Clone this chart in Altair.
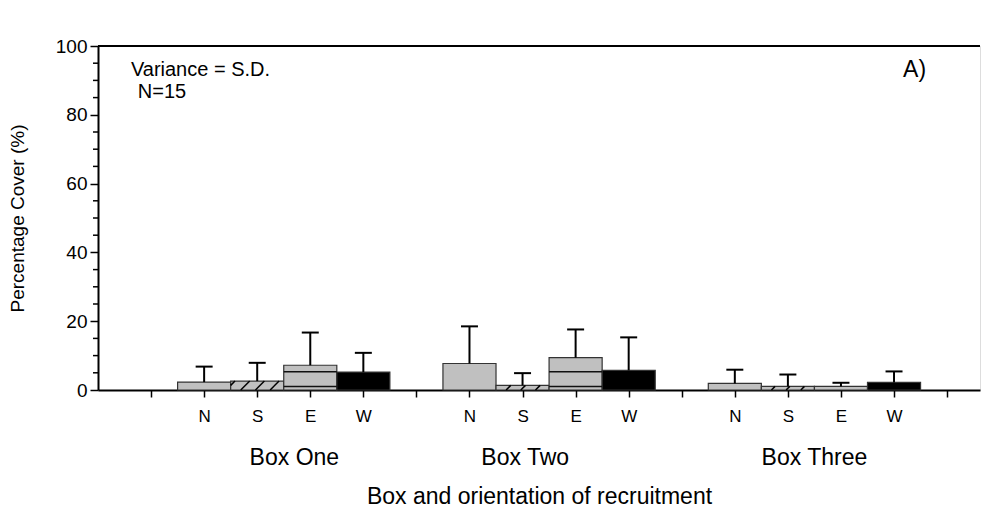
import altair as alt
import pandas as pd

# ---------------- data ----------------
boxes = ["Box One"] * 4 + ["Box Two"] * 4 + ["Box Three"] * 4
orients = ["N", "S", "E", "W"] * 3
positions = [1, 2, 3, 4, 6, 7, 8, 9, 11, 12, 13, 14]
means = [2.3, 2.6, 7.2, 5.2, 7.7, 1.35, 9.4, 5.7, 1.9, 1.05, 1.05, 2.2]
sds = [4.5, 5.3, 9.5, 5.6, 10.8, 3.55, 8.2, 9.6, 4.0, 3.45, 1.05, 3.2]

# inner divider lines drawn inside the E bars
e_line_pos = [3, 3, 8, 8]
e_line_vals = [1.05, 5.3, 1.05, 5.3]

box_label_names = ["Box One", "Box Two", "Box Three"]
box_label_pos = [2.7, 7.05, 12.5]

x_ticks = list(range(16))
y_major = [0, 20, 40, 60, 80, 100]
y_minor = [v for v in range(5, 100, 5) if v % 20 != 0]

FONT = "Liberation Sans"
W, H = 882, 344
X_DOMAIN = [-1, 15.62]

fill_map = {"N": "#c0c0c0", "S": "#c0c0c0", "E": "#c0c0c0", "W": "#000000"}

df = pd.DataFrame({
    "box": boxes, "orient": orients, "pos": positions,
    "mean": means, "sd": sds,
})
df["left"] = df["pos"] - 0.5
df["right"] = df["pos"] + 0.5
df["top"] = df["mean"] + df["sd"]
df["capl"] = df["pos"] - 0.16
df["capr"] = df["pos"] + 0.16
df["fill"] = df["orient"].map(fill_map)
df["zero"] = 0.0

# hatch segments for the S bars, derived from bar heights
px_x = W / (X_DOMAIN[1] - X_DOMAIN[0])
px_y = H / 100.0
rows = []
for _, r in df[df["orient"] == "S"].iterrows():
    left, right, h = r["left"], r["right"], r["mean"]
    dx = h * px_y / px_x
    spacing = 0.277
    for j in range(-1, 5):
        x0 = left + 0.19 + j * spacing
        x1 = x0 + dx
        if x1 <= left or x0 >= right:
            continue
        sx, sy = x0, 0.0
        ex, ey = x1, h
        if sx < left:
            sy = h * (left - x0) / dx
            sx = left
        if ex > right:
            ey = h * (right - x0) / dx
            ex = right
        rows.append({"x": sx, "y": sy, "x2": ex, "y2": ey})
hatch = pd.DataFrame(rows)

e_lines = pd.DataFrame({"pos": e_line_pos, "val": e_line_vals})
e_lines["left"] = e_lines["pos"] - 0.5
e_lines["right"] = e_lines["pos"] + 0.5

minor = pd.DataFrame({"v": y_minor})
box_lbl = pd.DataFrame({"name": box_label_names, "pos": box_label_pos})
notes = pd.DataFrame({
    "text": ["Variance = S.D.", "N=15"],
    "x": [-0.38, -0.25],
    "y": [93.0, 86.6],
})
panel = pd.DataFrame({"text": ["A)"], "x": [14.17], "y": [92.9]})

# ---------------- scales / axes ----------------
xscale = alt.Scale(domain=X_DOMAIN, nice=False, zero=False)
yscale = alt.Scale(domain=[0, 100], nice=False)

label_expr = ("datum.value % 5 == 1 ? 'N' : datum.value % 5 == 2 ? 'S' : "
              "datum.value % 5 == 3 ? 'E' : datum.value % 5 == 4 ? 'W' : ''")

x_axis = alt.Axis(
    values=x_ticks, labelExpr=label_expr, grid=False,
    tickSize=7, tickColor="black", tickWidth=1.5,
    domainColor="black", domainWidth=2,
    labelFont=FONT, labelFontSize=17, labelColor="black", labelPadding=11,
    labelOverlap=False, labelFlush=False,
    title="Box and orientation of recruitment",
    titleFont=FONT, titleFontSize=23, titleFontWeight="normal",
    titleColor="black", titlePadding=61,
)
y_axis = alt.Axis(
    values=y_major, grid=False,
    tickSize=8, tickColor="black", tickWidth=1.5,
    domainColor="black", domainWidth=2,
    labelFont=FONT, labelFontSize=19, labelColor="black", labelPadding=3,
    title="Percentage Cover (%)",
    titleFont=FONT, titleFontSize=19, titleFontWeight="normal",
    titleColor="black", titlePadding=28,
)

base = alt.Chart(df)

bars = base.mark_rect(stroke="#333333", strokeWidth=1.2).encode(
    x=alt.X("left:Q", scale=xscale, axis=x_axis),
    x2="right:Q",
    y=alt.Y("zero:Q", scale=yscale, axis=y_axis),
    y2="mean:Q",
    fill=alt.Fill("fill:N", scale=None),
)

inner = alt.Chart(e_lines).mark_rule(color="#111111", strokeWidth=1.5).encode(
    x=alt.X("left:Q", scale=xscale), x2="right:Q",
    y=alt.Y("val:Q", scale=yscale),
)

hatch_layer = alt.Chart(hatch).mark_rule(color="black", strokeWidth=1.5).encode(
    x=alt.X("x:Q", scale=xscale), x2="x2:Q",
    y=alt.Y("y:Q", scale=yscale), y2="y2:Q",
)

stems = base.mark_rule(color="black", strokeWidth=2).encode(
    x=alt.X("pos:Q", scale=xscale),
    y=alt.Y("mean:Q", scale=yscale), y2="top:Q",
)
caps = base.mark_rule(color="black", strokeWidth=2).encode(
    x=alt.X("capl:Q", scale=xscale), x2="capr:Q",
    y=alt.Y("top:Q", scale=yscale),
)

minor_ticks = alt.Chart(minor).mark_rule(color="black", strokeWidth=1.5).encode(
    y=alt.Y("v:Q", scale=yscale),
    x=alt.value(-5), x2=alt.value(0),
)

top_line = alt.Chart(minor).mark_rule(color="black", strokeWidth=1.5).encode(
    y=alt.datum(100, scale=yscale),
)

box_text = alt.Chart(box_lbl).mark_text(
    font=FONT, fontSize=23, color="black", baseline="middle", align="center"
).encode(
    x=alt.X("pos:Q", scale=xscale),
    y=alt.value(412),
    text="name:N",
)

note_text = alt.Chart(notes).mark_text(
    font=FONT, fontSize=20, color="black", baseline="middle", align="left"
).encode(
    x=alt.X("x:Q", scale=xscale),
    y=alt.Y("y:Q", scale=yscale),
    text="text:N",
)

panel_text = alt.Chart(panel).mark_text(
    font=FONT, fontSize=23, color="black", baseline="middle", align="left"
).encode(
    x=alt.X("x:Q", scale=xscale),
    y=alt.Y("y:Q", scale=yscale),
    text="text:N",
)

chart = alt.layer(
    bars, inner, hatch_layer, stems, caps, minor_ticks, top_line,
    box_text, note_text, panel_text
).properties(
    width=W, height=H,
    autosize=alt.AutoSizeParams(type="none"),
    padding={"left": 90, "top": 38, "right": 4, "bottom": 121},
).configure_view(stroke=None).configure(background="white")

chart.save("out.html", embed_options={"renderer": "svg", "actions": False})
